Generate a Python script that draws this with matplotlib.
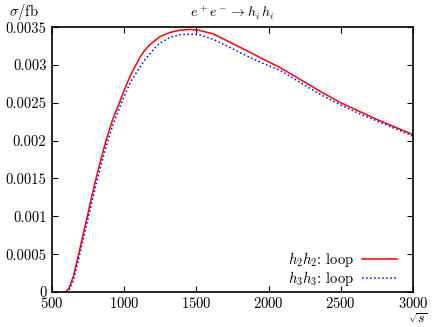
import matplotlib
matplotlib.use('Agg')
import matplotlib.pyplot as plt
from matplotlib.ticker import FixedLocator, FixedFormatter

plt.rcParams['font.family'] = 'serif'
plt.rcParams['font.serif'] = ['cmr10']
plt.rcParams['mathtext.fontset'] = 'cm'
plt.rcParams['axes.formatter.use_mathtext'] = True

# sqrt(s) in GeV, sigma in fb
sqrt_s = [595, 620, 650, 685, 720, 745, 775, 805, 840, 874, 920, 967, 1000,
          1045, 1109, 1140, 1179, 1210, 1248, 1317, 1386, 1456, 1516, 1617,
          1733, 1848, 1963, 2079, 2200, 2350, 2500, 2625, 2750, 2875, 3000]
sigma_h2h2 = [0.0, 0.00006, 0.00022, 0.0005, 0.0008, 0.001, 0.00126, 0.0015,
              0.00176, 0.002, 0.00228, 0.0025, 0.00267, 0.00287, 0.0031,
              0.00319, 0.00327, 0.00332, 0.003375, 0.00343, 0.00346, 0.00347,
              0.00346, 0.00341, 0.0033, 0.00319, 0.003077, 0.002967, 0.00283,
              0.00266, 0.0025, 0.00239, 0.00228, 0.00218, 0.00208]
sigma_h3h3 = [0.0, 0.00003, 0.00017, 0.00044, 0.00073, 0.00093, 0.00118,
              0.00142, 0.00168, 0.00192, 0.0022, 0.00243, 0.00259, 0.00278,
              0.00297, 0.00306, 0.00315, 0.00322, 0.00329, 0.003365, 0.0034,
              0.003408, 0.0034, 0.00334, 0.00323, 0.00312, 0.00302, 0.00293,
              0.00279, 0.00262, 0.00247, 0.00236, 0.00226, 0.00216, 0.00206]

xticks = [500, 1000, 1500, 2000, 2500, 3000]
yticks = [0, 0.0005, 0.001, 0.0015, 0.002, 0.0025, 0.003, 0.0035]
ytick_labels = ['0', '0.0005', '0.001', '0.0015', '0.002', '0.0025', '0.003', '0.0035']

fig = plt.figure(figsize=(4.32, 3.27), dpi=100)
ax = fig.add_axes([0.1204, 0.107, 0.8356, 0.81])

ax.plot(sqrt_s, sigma_h2h2, '-', color='#ff0000', lw=1.1, label=r'$h_2h_2$: loop')
ax.plot(sqrt_s, sigma_h3h3, ':', color='#0000ff', lw=1.1, label=r'$h_3h_3$: loop')

ax.set_xlim(500, 3000)
ax.set_ylim(0, 0.0035)
ax.xaxis.set_major_locator(FixedLocator(xticks))
ax.yaxis.set_major_locator(FixedLocator(yticks))
ax.yaxis.set_major_formatter(FixedFormatter(ytick_labels))
ax.tick_params(direction='in', top=True, right=True, length=4, width=0.8,
               labelsize=10.5, pad=4)
ax.tick_params(axis='x', pad=3)
for sp in ax.spines.values():
    sp.set_linewidth(1.2)

ax.set_title(r'$e^+e^- \to h_i\,h_i$', fontsize=10, pad=7)
fig.text(0.02, 0.995, r'$\sigma/\mathrm{fb}$', fontsize=10.5, va='top', ha='left')
fig.text(0.968, 0.004, r'$\sqrt{s}$', fontsize=10, va='bottom', ha='center')

ax.legend(loc='lower right', frameon=False, markerfirst=False, fontsize=10.5,
          handlelength=2.4, handletextpad=0.55, labelspacing=0.0,
          borderpad=0.0, borderaxespad=0.0, bbox_to_anchor=(0.955, 0.015))

fig.savefig('out.png', dpi=100)
